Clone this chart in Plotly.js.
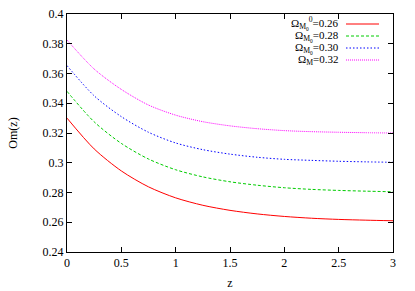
<!DOCTYPE html>
<html>
<head>
<meta charset="utf-8">
<script src="https://cdn.plot.ly/plotly-3.0.1.min.js"></script>
<style>html,body{margin:0;padding:0;background:#fff;}#chart{width:415px;height:291px;}</style>
</head>
<body>
<div id="chart"></div>
<script>
var zValues = [0, 0.25, 0.5, 0.75, 1, 1.25, 1.5, 1.75, 2, 2.25, 2.5, 2.75, 3];
var om026 = [0.3300, 0.3093, 0.2945, 0.2838, 0.2764, 0.2714, 0.2680, 0.2656, 0.2639, 0.2627, 0.2619, 0.2614, 0.2610];
var om028 = [0.3480, 0.3275, 0.3130, 0.3025, 0.2953, 0.2905, 0.2872, 0.2849, 0.2832, 0.2821, 0.2814, 0.2809, 0.2805];
var om030 = [0.3653, 0.3450, 0.3310, 0.3205, 0.3133, 0.3088, 0.3058, 0.3037, 0.3023, 0.3016, 0.3010, 0.3006, 0.3003];
var om032 = [0.3825, 0.3630, 0.3493, 0.3388, 0.3320, 0.3276, 0.3248, 0.3229, 0.3216, 0.3209, 0.3205, 0.3202, 0.3200];
var seriesNames = ['Ω<sub>M<sub>0</sub></sub><sup>0</sup>=0.26', 'Ω<sub>M<sub>0</sub></sub>=0.28', 'Ω<sub>M<sub>0</sub></sub>=0.30', 'Ω<sub>M</sub>=0.32'];
var seriesColors = ['#ff0000', '#00cc00', '#0000ff', '#ff00ff'];
var seriesDash = ['solid', '3px,2px', '1.5px,2px', '1px,1px'];
var xTicks = [0, 0.5, 1, 1.5, 2, 2.5, 3];
var xTickLabels = ['0', '0.5', '1', '1.5', '2', '2.5', '3'];
var yTicks = [0.24, 0.26, 0.28, 0.3, 0.32, 0.34, 0.36, 0.38, 0.4];
var yTickLabels = ['0.24', '0.26', '0.28', '0.3', '0.32', '0.34', '0.36', '0.38', '0.4'];

var allY = [om026, om028, om030, om032];
var traces = allY.map(function (ys, i) {
  return {
    x: zValues, y: ys, type: 'scatter', mode: 'lines', name: seriesNames[i],
    line: {color: seriesColors[i], width: 1, dash: seriesDash[i], shape: 'spline', smoothing: 0.8},
    showlegend: false, hoverinfo: 'skip'
  };
});

var W = 415, H = 291, mL = 67, mR = 22, mT = 14, mB = 39;
var pw = W - mL - mR, ph = H - mT - mB;
function px2x(px) { return (px - mL) / pw; }
function py2y(py) { return (H - mB - py) / ph; }

var annotations = [], shapes = [];
var rowY = [24, 36, 48, 60];
seriesNames.forEach(function (n, i) {
  annotations.push({
    xref: 'paper', yref: 'paper', x: px2x(341), y: py2y(rowY[i]),
    xanchor: 'right', yanchor: 'middle', text: n, showarrow: false,
    font: {family: 'Liberation Serif', size: 11, color: '#000'}
  });
  shapes.push({
    type: 'line', xref: 'paper', yref: 'paper',
    x0: px2x(346), x1: px2x(379), y0: py2y(rowY[i]), y1: py2y(rowY[i]),
    line: {color: seriesColors[i], width: 1, dash: seriesDash[i]}
  });
});

var axisCommon = {
  showgrid: false, zeroline: false, showline: true, linecolor: '#000', linewidth: 1,
  mirror: 'allticks', ticks: 'inside', ticklen: 5, tickcolor: '#000', tickwidth: 1,
  tickfont: {family: 'Liberation Serif', size: 12, color: '#000'}
};

var layout = {
  width: W, height: H,
  margin: {l: mL, r: mR, t: mT, b: mB},
  paper_bgcolor: '#fff', plot_bgcolor: '#fff',
  showlegend: false,
  xaxis: Object.assign({}, axisCommon, {
    range: [0, 3], tickvals: xTicks, ticktext: xTickLabels,
    title: {text: 'z', font: {family: 'Liberation Serif', size: 12, color: '#000'}, standoff: 9}
  }),
  yaxis: Object.assign({}, axisCommon, {
    range: [0.24, 0.4], tickvals: yTicks, ticktext: yTickLabels,
    title: {text: 'Om(z)', font: {family: 'Liberation Serif', size: 12, color: '#000'}, standoff: 22}
  }),
  annotations: annotations,
  shapes: shapes
};

Plotly.newPlot('chart', traces, layout, {staticPlot: true, displayModeBar: false});
</script>
</body>
</html>
